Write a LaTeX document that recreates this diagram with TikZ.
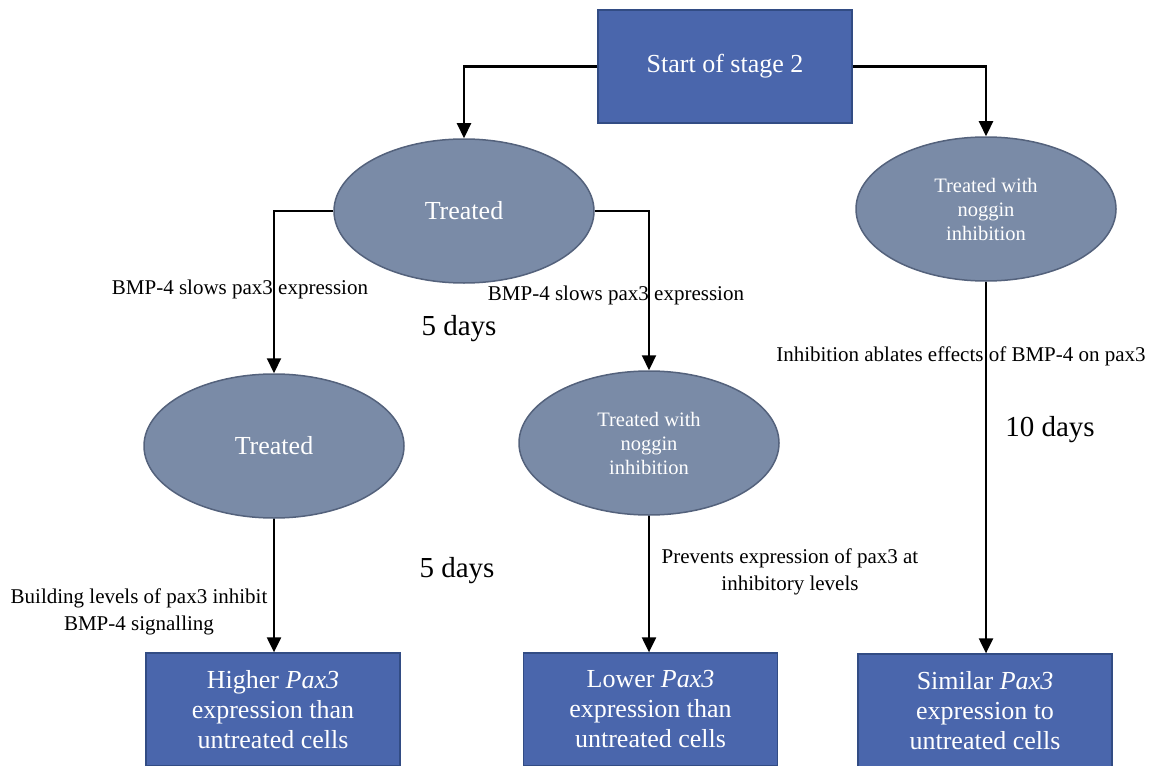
\documentclass[tikz,border=0pt]{standalone}
\usepackage{fontspec}
\setmainfont{Liberation Serif}
\usetikzlibrary{shapes.geometric,arrows.meta,calc}
\definecolor{boxblue}{RGB}{74,102,172}
\definecolor{boxedge}{RGB}{50,76,132}
\definecolor{ovalfill}{RGB}{122,139,167}
\definecolor{ovaledge}{RGB}{84,98,124}
\begin{document}
\begin{tikzpicture}[x=1pt,y=-1pt,
  stagebox/.style={rectangle,draw=boxedge,line width=1.3pt,fill=boxblue,text=white,
    minimum width=254pt,minimum height=113pt,inner sep=0pt,align=center,
    font=\fontsize{26}{30}\selectfont},
  oval/.style={ellipse,draw=ovaledge,line width=1.5pt,fill=ovalfill,text=white,
    minimum width=260pt,minimum height=144pt,inner sep=0pt,align=center},
  bigtxt/.style={font=\fontsize{26}{30}\selectfont},
  smalltxt/.style={font=\fontsize{20.5}{24}\selectfont},
  note/.style={align=center,font=\fontsize{21}{27}\selectfont,inner sep=0pt},
  days/.style={font=\fontsize{29}{32}\selectfont,inner sep=0pt},
  flow/.style={line width=2.2pt,-{Triangle[length=15pt,width=14pt]}}]

\useasboundingbox (0,0) rectangle (1150,765);

% boxes and ovals
\node[stagebox] (start) at (725,66.5) {\raisebox{-4pt}{Start of stage 2}};
\node[oval,bigtxt] (t1) at (464,211) {\raisebox{-2pt}{Treated}};
\node[oval,smalltxt] (n1) at (986,209) {Treated with\\noggin\\inhibition};
\node[oval,bigtxt] (t2) at (274,446) {\raisebox{-2pt}{Treated}};
\node[oval,smalltxt] (n2) at (649,443) {Treated with\\noggin\\inhibition};
\node[stagebox] (r1) at (273,709.5) {Higher \textit{Pax3}\\expression than\\untreated cells};
\node[stagebox] (r2) at (650.5,709.5) {Lower \textit{Pax3}\\expression than\\untreated cells};
\node[stagebox] (r3) at (985,710.5) {Similar \textit{Pax3}\\expression to\\untreated cells};

% connectors
\draw[flow] (start.west) -| (t1.north);
\draw[flow] (start.east) -| (n1.north);
\draw[flow] (t1.west) -| (t2.north);
\draw[flow] (t1.east) -| (n2.north);
\draw[flow] (t2.south) -- (t2.south |- r1.north);
\draw[flow] (n2.south) -- (n2.south |- r2.north);
\draw[flow] (n1.south) -- (n1.south |- r3.north);

% annotations
\node[note] (a1) at (240,289) {BMP-4 slows pax3 expression};
\node[note] (a2) at (616,295) {BMP-4 slows pax3 expression};
\node[days] (d1) at (459,329) {5 days};
\node[note] (a3) at (961,356) {Inhibition ablates effects of BMP-4 on pax3};
\node[days] (d2) at (1050,430) {10 days};
\node[days] (d3) at (457,571) {5 days};
\node[note] (a4) at (139,612) {Building levels of pax3 inhibit\\BMP-4 signalling};
\node[note] (a5) at (790,572) {Prevents expression of pax3 at\\inhibitory levels};
\end{tikzpicture}
\end{document}
